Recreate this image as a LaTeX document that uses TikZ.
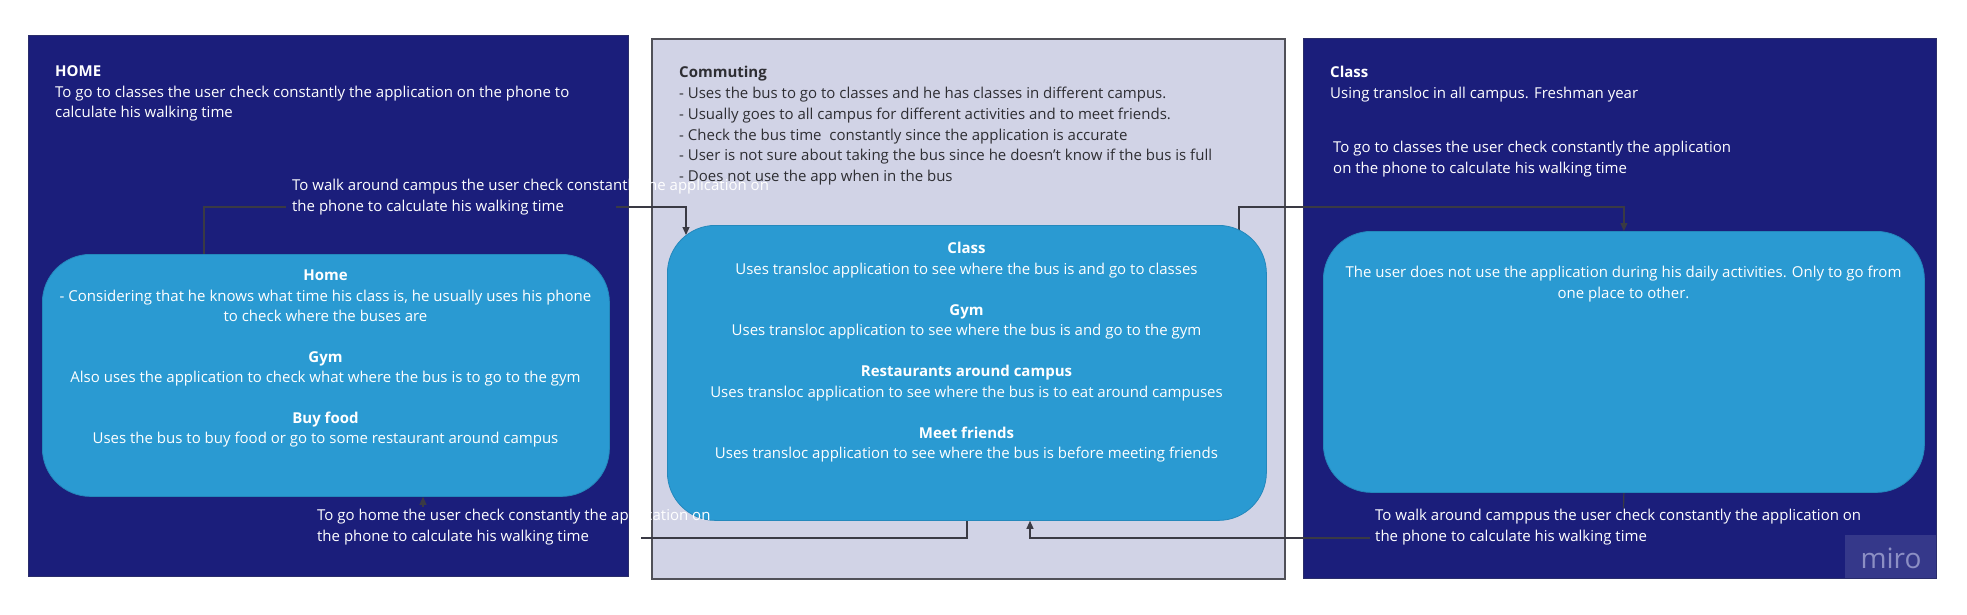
\documentclass[tikz,border=0pt]{standalone}
\usepackage{fontspec}
\setmainfont{Open Sans}
\usetikzlibrary{arrows.meta}
\definecolor{navy}{HTML}{1B1E7B}
\definecolor{navyedge}{HTML}{2A2D6A}
\definecolor{cyanbox}{HTML}{2A9AD2}
\definecolor{cyanedge}{HTML}{2488BC}
\definecolor{lav}{HTML}{D1D3E6}
\definecolor{gborder}{HTML}{505058}
\definecolor{connc}{HTML}{3A3A44}
\definecolor{darktext}{HTML}{2E2E33}
\definecolor{mirobg}{HTML}{35388A}
\definecolor{mirotext}{HTML}{8C8FC4}
\pgfdeclarelayer{bg}
\pgfdeclarelayer{lines}
\pgfsetlayers{bg,lines,main}
\begin{document}
\begin{tikzpicture}[x=1pt,y=-1pt,
  navypanel/.style={fill=navy, draw=navyedge, line width=0.8pt, anchor=north west, inner sep=0pt},
  lavpanel/.style={fill=lav, draw=gborder, line width=1.6pt, anchor=north west, inner sep=0pt},
  ubox/.style={fill=cyanbox, draw=cyanedge, line width=0.8pt, rounded corners=48pt, anchor=north west, inner sep=0pt},
  txt/.style={font=\fontsize{15}{20.4}\selectfont, inner sep=0pt, text=white},
  txtl/.style={font=\fontsize{15}{21}\selectfont, inner sep=0pt, text=white},
  conn/.style={draw=connc, line width=1.2pt},
  arr/.style={-{Triangle[length=8pt,width=7pt]}}
]
\begin{pgfonlayer}{bg}
\fill[white] (0,0) rectangle (1967,615);
\node[navypanel, minimum width=600pt, minimum height=541pt] (home) at (28,35) {};
\node[lavpanel, minimum width=633pt, minimum height=540pt] (commute) at (651,38) {};
\node[navypanel, minimum width=633pt, minimum height=540pt] (classp) at (1303,38) {};
\end{pgfonlayer}

% rounded boxes
\node[ubox, minimum width=567pt, minimum height=242pt] (lbox) at (42,254) {};
\node[ubox, minimum width=599pt, minimum height=295pt] (mbox) at (667,225) {};
\node[ubox, minimum width=601pt, minimum height=261pt] (rbox) at (1323,231) {};

% left panel texts
\node[txt, anchor=north west, align=left] (homet) at (55,62.2)
 {\strut\textbf{HOME}\\To go to classes the user check constantly the application on the phone to\\calculate his walking time};
\node[txtl, anchor=north west, align=left] (lab1) at (292,175.8)
 {\strut To walk around campus the user check constantly the application on\\the phone to calculate his walking time};
\node[txt, anchor=north, align=center] (lboxt) at (325.5,266.2)
 {\strut\textbf{Home}\\- Considering that he knows what time his class is, he usually uses his phone\\to check where the buses are\\[20.4pt]\textbf{Gym}\\Also uses the application to check what where the bus is to go to the gym\\[20.4pt]\textbf{Buy food}\\Uses the bus to buy food or go to some restaurant around campus};
\node[txtl, anchor=north west, align=left] (lab2) at (317,505.8)
 {\strut To go home the user check constantly the application on\\the phone to calculate his walking time};

% middle panel texts
\node[txt, font=\fontsize{15}{20.8}\selectfont, text=darktext, anchor=north west, align=left] (commutet) at (679,62.9)
 {\strut\textbf{Commuting}\\- Uses the bus to go to classes and he has classes in different campus.\\- Usually goes to all campus for different activities and to meet friends.\\- Check the bus time\ \ constantly since the application is accurate\\- User is not sure about taking the bus since he doesn't know if the bus is full\\- Does not use the app when in the bus};
\node[txt, font=\fontsize{15}{20.5}\selectfont, anchor=north, align=center] (mboxt) at (966.5,239.2)
 {\strut\textbf{Class}\\Uses transloc application to see where the bus is and go to classes\\[20.5pt]\textbf{Gym}\\Uses transloc application to see where the bus is and go to the gym\\[20.5pt]\textbf{Restaurants around campus}\\Uses transloc application to see where the bus is to eat around campuses\\[20.5pt]\textbf{Meet friends}\\Uses transloc application to see where the bus is before meeting friends};

% right panel texts
\node[txt, anchor=north west, align=left] (classt) at (1330,63.2)
 {\strut\textbf{Class}\\Using transloc in all campus. Freshman year};
\node[txtl, anchor=north west, align=left] (classt2) at (1333,137.8)
 {\strut To go to classes the user check constantly the application\\on the phone to calculate his walking time};
\node[txt, anchor=north, align=center] (rboxt) at (1623.5,263.2)
 {\strut The user does not use the application during his daily activities. Only to go from\\one place to other.};
\node[txtl, anchor=north west, align=left] (lab3) at (1375,505.8)
 {\strut To walk around camppus the user check constantly the application on\\the phone to calculate his walking time};

% miro watermark
\node[fill=mirobg, minimum width=91pt, minimum height=43pt, anchor=north west, inner sep=0pt] (miro) at (1845,535) {};
\node[font=\fontsize{28}{28}\selectfont, text=mirotext, anchor=base, inner sep=0pt] (mirot) at (1891,568) {miro};

% connectors
\begin{pgfonlayer}{lines}
\coordinate (c1a) at (204,207);
\coordinate (c1g1) at (286,207);
\coordinate (c1g2) at (616,207);
\coordinate (c1b) at (686,207);
\coordinate (c1e) at (686,235);
\draw[conn] (lbox.north -| c1a) -- (c1a) -- (c1g1);
\draw[conn,arr] (c1g2) -- (c1b) -- (c1e);

\coordinate (c2a) at (1239,207);
\draw[conn,arr] (mbox.center -| c2a) -- (c2a) -| (rbox.north);

\coordinate (c3a) at (1623.5,508);
\coordinate (c3b) at (1370,538);
\coordinate (c3c) at (1030,538);
\draw[conn] (rbox.south) -- (c3a);
\draw[conn,arr] (c3b) -- (c3c) -- (mbox.south -| c3c);

\coordinate (c4a) at (641,538);
\coordinate (c4b) at (423,507);
\draw[conn] (mbox.center) -- (mbox.south |- c4a) -- (c4a);
\draw[conn,arr] (c4b) -- (lbox.south -| c4b);
\end{pgfonlayer}
\end{tikzpicture}
\end{document}
